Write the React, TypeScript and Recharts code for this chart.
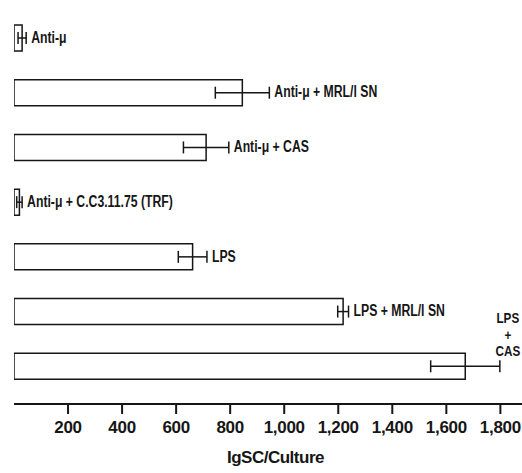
import React from 'react';
import { BarChart, Bar, XAxis, YAxis, ErrorBar, LabelList, Label } from 'recharts';

const categories = [
  'Anti-μ',
  'Anti-μ + MRL/l SN',
  'Anti-μ + CAS',
  'Anti-μ + C.C3.11.75 (TRF)',
  'LPS',
  'LPS + MRL/l SN',
  'LPS\n+\nCAS',
];
const values = [30, 845, 711, 20, 661, 1218, 1670];
const errors = [15, 100, 84, 10, 53, 20, 128];
const xTicks = [200, 400, 600, 800, 1000, 1200, 1400, 1600, 1800];
const axisTitle = 'IgSC/Culture';

const data = categories.map((name, i) => ({ name, value: values[i], err: errors[i] }));

const FONT = '"Liberation Sans", Arial, sans-serif';
const INK = '#161616';

const Narrow = ({ x, y, anchor = 'start', sx = 0.72, size = 17, children }: any) => (
  <text
    transform={`translate(${x} ${y}) scale(${sx} 1)`}
    x={0}
    y={0}
    textAnchor={anchor}
    dominantBaseline="central"
    fontFamily={FONT}
    fontSize={size}
    fontWeight="bold"
    fill={INK}
  >
    {children}
  </text>
);

const BarLabel = (props: any) => {
  const { x, y, width, height, index } = props;
  const d = data[index];
  if (!d) return null;
  const pxPerUnit = d.value ? width / d.value : 0;
  const errEnd = x + width + d.err * pxPerUnit;
  const cy = y + height / 2;
  const lines = d.name.split('\n');
  if (lines.length > 1) {
    return (
      <g>
        {lines.map((ln: string, k: number) => (
          <Narrow key={k} x={errEnd + 8} y={cy - 48 + k * 16.5} anchor="middle" size={15} sx={0.78}>{ln}</Narrow>
        ))}
      </g>
    );
  }
  return <Narrow x={errEnd + 5} y={cy - 1}>{d.name}</Narrow>;
};

const XTick = (props: any) => {
  const { x, y, payload } = props;
  return (
    <text x={x} y={y} dy="0.72em" textAnchor="middle" fontFamily={FONT} fontSize={17} fontWeight="bold"
      letterSpacing={-0.3} fill={INK}>
      {Number(payload.value).toLocaleString('en-US')}
    </text>
  );
};

const AxisTitle = (props: any) => {
  const vb = props.viewBox || {};
  return (
    <text x={vb.x + vb.width / 2 + 7.5} y={vb.y + vb.height - 10} textAnchor="middle" fontFamily={FONT}
      fontSize={17} fontWeight="bold" letterSpacing={-0.5} fill={INK}>
      {axisTitle}
    </text>
  );
};

export default function App() {
  return (
    <div style={{ position: 'absolute', left: 0, top: 0, background: '#fff' }}>
      <BarChart
        width={522}
        height={473}
        data={data}
        layout="vertical"
        margin={{ top: 8, right: 0, bottom: 0, left: 14 }}
      >
        <XAxis
          type="number"
          domain={[0, 1880]}
          ticks={xTicks}
          allowDataOverflow
          height={69}
          axisLine={{ stroke: INK, strokeWidth: 2 }}
          tickLine={{ stroke: INK, strokeWidth: 2 }}
          tickSize={10}
          tickMargin={7}
          tick={<XTick />}
        >
          <Label content={<AxisTitle />} />
        </XAxis>
        <YAxis
          type="category"
          dataKey="name"
          width={0}
          tick={false}
          tickLine={false}
          axisLine={{ stroke: INK, strokeWidth: 2 }}
          padding={{ top: 3, bottom: 10 }}
        />
        <Bar dataKey="value" fill="#fff" stroke={INK} strokeWidth={1.5} barSize={26} isAnimationActive={false}>
          <ErrorBar dataKey="err" direction="x" width={6} stroke={INK} strokeWidth={1.5} />
          <LabelList dataKey="name" content={BarLabel} />
        </Bar>
      </BarChart>
    </div>
  );
}
